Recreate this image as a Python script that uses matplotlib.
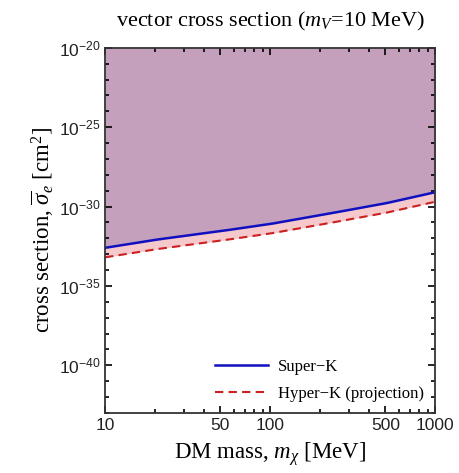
import numpy as np
import matplotlib
matplotlib.use('Agg')
import matplotlib.pyplot as plt
from matplotlib.ticker import LogLocator, FixedLocator, NullFormatter, FixedFormatter

# %% data
mass = [10, 20, 50, 100, 200, 500, 1000]          # MeV
logsig_superk = [-32.6, -32.1, -31.55, -31.1, -30.55, -29.8, -29.1]
logsig_hyperk = [-33.2, -32.7, -32.15, -31.7, -31.15, -30.4, -29.7]

xticks = [10, 50, 100, 500, 1000]
xticklabels = ['10', '50', '100', '500', '1000']
yticks = [1e-40, 1e-35, 1e-30, 1e-25, 1e-20]
yticklabels = ['$\\mathsf{10^{-40}}$', '$\\mathsf{10^{-35}}$', '$\\mathsf{10^{-30}}$',
               '$\\mathsf{10^{-25}}$', '$\\mathsf{10^{-20}}$']

plt.rcParams['mathtext.fontset'] = 'custom'
plt.rcParams['mathtext.rm'] = 'Liberation Serif'
plt.rcParams['mathtext.it'] = 'Liberation Serif:italic'
plt.rcParams['mathtext.bf'] = 'Liberation Serif:bold'
plt.rcParams['mathtext.sf'] = 'Liberation Sans'
plt.rcParams['mathtext.fallback'] = 'stix'

# smooth curves in log space
m = np.logspace(1, 3, 200)
sk = 10**np.interp(np.log10(m), np.log10(mass), logsig_superk)
hk = 10**np.interp(np.log10(m), np.log10(mass), logsig_hyperk)

fig = plt.figure(figsize=(4.59, 4.73), dpi=100)
ax = fig.add_axes([0.229, 0.127, 0.719, 0.772])

ytop = 1e-20
ax.fill_between(m, sk, ytop, color='#c4a0bd', lw=0)
ax.fill_between(m, hk, sk, color='#f5c8cb', lw=0)
ax.plot(m, sk, color='#1010c0', lw=1.8, label='Super\u2212K')
ax.plot(m, hk, color='#cc2020', lw=1.5, ls=(0, (4, 2.5)), label='Hyper\u2212K (projection)')

ax.set_xscale('log')
ax.set_yscale('log')
ax.set_xlim(10, 1000)
ax.set_ylim(1e-43, 1e-20)

ax.xaxis.set_major_locator(FixedLocator(xticks))
ax.xaxis.set_major_formatter(FixedFormatter(xticklabels))
ax.xaxis.set_minor_locator(LogLocator(base=10, subs=np.arange(2, 10)))
ax.xaxis.set_minor_formatter(NullFormatter())
ax.yaxis.set_major_locator(FixedLocator(yticks))
ax.yaxis.set_major_formatter(FixedFormatter(yticklabels))
ax.yaxis.set_minor_locator(FixedLocator([10.0**k for k in range(-43, -19)]))
ax.yaxis.set_minor_formatter(NullFormatter())

ax.tick_params(which='both', direction='in', top=True, right=True, colors='black')
ax.tick_params(which='major', length=5, width=1.2, labelsize=12.5)
ax.tick_params(which='minor', length=3, width=1.2)
for lab in ax.get_xticklabels() + ax.get_yticklabels():
    lab.set_family('Liberation Sans')
    lab.set_color('#222222')
for s in ax.spines.values():
    s.set_linewidth(1.3)
    s.set_color('#333333')

ax.set_title('vector cross section ($m_V$=10 MeV)', fontsize=16,
             family='Liberation Serif', pad=15)
ax.set_xlabel('DM mass, $m_\\chi$ [MeV]', fontsize=16.5, family='Liberation Serif', labelpad=5)
ax.set_ylabel('cross section, $\\overline{\\sigma}_e$ [cm$^2$]', fontsize=16.5,
              family='Liberation Serif', labelpad=2)

leg = ax.legend(loc='lower right', frameon=False,
                prop={'family': 'Liberation Serif', 'size': 12},
                handlelength=3.2, handletextpad=0.6, labelspacing=0.65,
                borderaxespad=0.25)

fig.savefig('out.png', dpi=100)
